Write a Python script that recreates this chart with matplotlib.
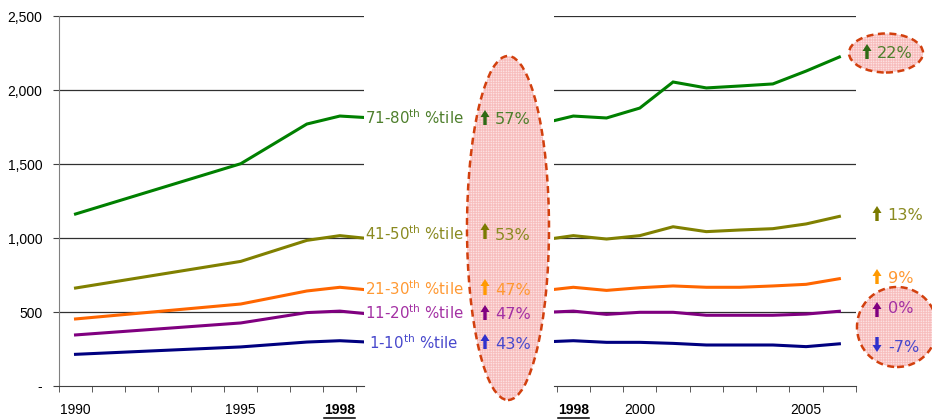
import matplotlib
matplotlib.use('Agg')
import matplotlib.pyplot as plt
from matplotlib.patches import Ellipse, FancyArrow
from matplotlib.lines import Line2D
from matplotlib.transforms import IdentityTransform

# data (1991-94 and 1996 missing in the source)
years = [1990, 1995, 1997, 1998, 1999, 2000, 2001, 2002, 2003, 2004, 2005, 2006]
p71_80 = [1162, 1502, 1770, 1824, 1811, 1878, 2054, 2014, 2027, 2041, 2128, 2223]
p41_50 = [662, 842, 984, 1016, 993, 1016, 1076, 1043, 1054, 1063, 1095, 1146]
p21_30 = [453, 554, 642, 667, 646, 664, 676, 667, 667, 676, 687, 725]
p11_20 = [345, 426, 496, 506, 484, 498, 498, 478, 478, 478, 486, 505]
p1_10 = [214, 264, 297, 306, 295, 295, 288, 277, 277, 277, 266, 285]

series_names = ['71-80$^{\\rm th}$ %tile', '41-50$^{\\rm th}$ %tile', '21-30$^{\\rm th}$ %tile',
                '11-20$^{\\rm th}$ %tile', '1-10$^{\\rm th}$ %tile']
change_90_98 = ['57%', '53%', '47%', '47%', '43%']
change_98_06 = ['22%', '13%', '9%', '0%', '-7%']
dir_98_06 = ['up', 'up', 'up', 'up', 'down']

yticks = [0, 500, 1000, 1500, 2000, 2500]
ytick_labels = ['-', '500', '1,000', '1,500', '2,000', '2,500']
left_xlabels = {1990: '1990', 1995: '1995', 1998: '1998'}
right_xlabels = {1998: '1998', 2000: '2000', 2005: '2005'}

line_colors = ['#008000', '#808000', '#FF6600', '#800080', '#000080']
text_colors = ['#4E7F2C', '#8A8A20', '#FF9933', '#A330A3', '#4848CC']
arrow_colors = ['#2F6A14', '#7A7A00', '#FF9900', '#800080', '#3030CC']

W, H = 932, 419
plt.rcParams['mathtext.fontset'] = 'dejavusans'
plt.rcParams['mathtext.default'] = 'regular'
plt.rcParams['hatch.linewidth'] = 0.5

fig = plt.figure(figsize=(W / 100, H / 100), dpi=100)
ax1 = fig.add_axes([59 / W, 33 / H, 305 / W, 370 / H])
ax2 = fig.add_axes([554 / W, 33 / H, 302 / W, 370 / H])

all_series = [p71_80, p41_50, p21_30, p11_20, p1_10]
for ax in (ax1, ax2):
    for vals, c in zip(all_series, line_colors):
        ax.plot(years, vals, color=c, lw=2.2, solid_joinstyle='miter', zorder=3)
    ax.set_ylim(0, 2500)
    ax.set_yticks(yticks)
    for v in yticks[1:]:
        ax.axhline(v, color='#303030', lw=0.9, zorder=1)
    ax.spines['top'].set_visible(False)
    ax.spines['right'].set_visible(False)
    ax.spines['bottom'].set_color('#404040')
    ax.tick_params(axis='x', which='major', length=0, pad=12, labelsize=10)
    ax.tick_params(axis='x', which='minor', length=4, color='#404040', direction='out')

ax1.set_xlim(1989.5, 1998.73)
ax1.set_xticks(list(left_xlabels.keys()))
ax1.set_xticklabels(list(left_xlabels.values()), fontfamily='Liberation Sans', fontsize=10)
ax1.set_xticks([y + 0.5 for y in range(1989, 1999)], minor=True)
ax1.set_yticklabels(ytick_labels, fontfamily='Liberation Sans', fontsize=10)
ax1.tick_params(axis='y', length=4, pad=8, color='#404040')
ax1.spines['left'].set_color('#808080')

ax2.set_xlim(1997.42, 2006.5)
ax2.set_xticks(list(right_xlabels.keys()))
ax2.set_xticklabels(list(right_xlabels.values()), fontfamily='Liberation Sans', fontsize=10)
ax2.set_xticks([y + 0.5 for y in range(1997, 2007)], minor=True)
ax2.spines['left'].set_visible(False)
ax2.tick_params(axis='y', left=False, labelleft=False)

bold_labels = []
for ax in (ax1, ax2):
    for lbl in ax.get_xticklabels():
        if lbl.get_text() == '1998':
            lbl.set_fontweight('bold')
            bold_labels.append(lbl)

ident = IdentityTransform()

# highlight ellipses (figure pixels, image y from top)
for cx, cy, w, h in [(508, 228, 82, 344), (886, 53, 74, 39), (897, 327, 80, 80)]:
    fig.add_artist(Ellipse((cx, H - cy), w, h, transform=ident, facecolor='#FFF4F4',
                           edgecolor='#F7BDBD', lw=0, hatch='++++++++++', zorder=1))
    fig.add_artist(Ellipse((cx, H - cy), w, h, transform=ident, fill=False,
                           edgecolor='#D2400E', lw=1.8, linestyle=(0, (2.8, 1.8)), zorder=2))

# series labels and changes
label_base = [124, 240, 295, 319, 349]
for name, base, c in zip(series_names, label_base, text_colors):
    fig.text(414, H - base, name, transform=ident, ha='center', va='baseline',
             color=c, fontsize=10.8, fontfamily='DejaVu Sans')


def arrow(x, y_top, y_bot, color, up=True):
    if up:
        a = FancyArrow(x, H - y_bot, 0, y_bot - y_top, width=3.4, head_width=9,
                       head_length=7, length_includes_head=True, transform=ident,
                       color=color, lw=0, zorder=4)
    else:
        a = FancyArrow(x, H - y_top, 0, -(y_bot - y_top), width=3.4, head_width=9,
                       head_length=7, length_includes_head=True, transform=ident,
                       color=color, lw=0, zorder=4)
    fig.add_artist(a)


left_arrow_y = [(110, 125), (223, 239), (279, 295), (305, 320), (334, 349)]
for txt, base, (yt, yb), c, ac in zip(change_90_98, label_base, left_arrow_y, text_colors, arrow_colors):
    arrow(485, yt, yb, ac)
    fig.text(495, H - base, txt, transform=ident, ha='left', va='baseline',
             color=c, fontsize=11.6, fontfamily='DejaVu Sans')

right_base = [58, 220, 283, 313, 352]
right_arrow_y = [(44, 59), (206, 221), (269, 284), (302, 317), (337, 352)]
right_text_x = [877, 887, 888, 888, 888]
right_arrow_x = [867, 877, 877, 877, 877]
for txt, base, (yt, yb), tx, axx, d, c, ac in zip(change_98_06, right_base, right_arrow_y,
                                                  right_text_x, right_arrow_x, dir_98_06,
                                                  text_colors, arrow_colors):
    arrow(axx, yt, yb, ac, up=(d == 'up'))
    fig.text(tx, H - base, txt, transform=ident, ha='left', va='baseline',
             color=c, fontsize=11.6, fontfamily='DejaVu Sans')

# underline the bold 1998 labels
fig.canvas.draw()
for lbl in bold_labels:
    bb = lbl.get_window_extent()
    fig.add_artist(Line2D([bb.x0, bb.x1], [bb.y0 - 1.5, bb.y0 - 1.5], transform=ident,
                          color='black', lw=1.1))

fig.savefig('out.png', dpi=100)
